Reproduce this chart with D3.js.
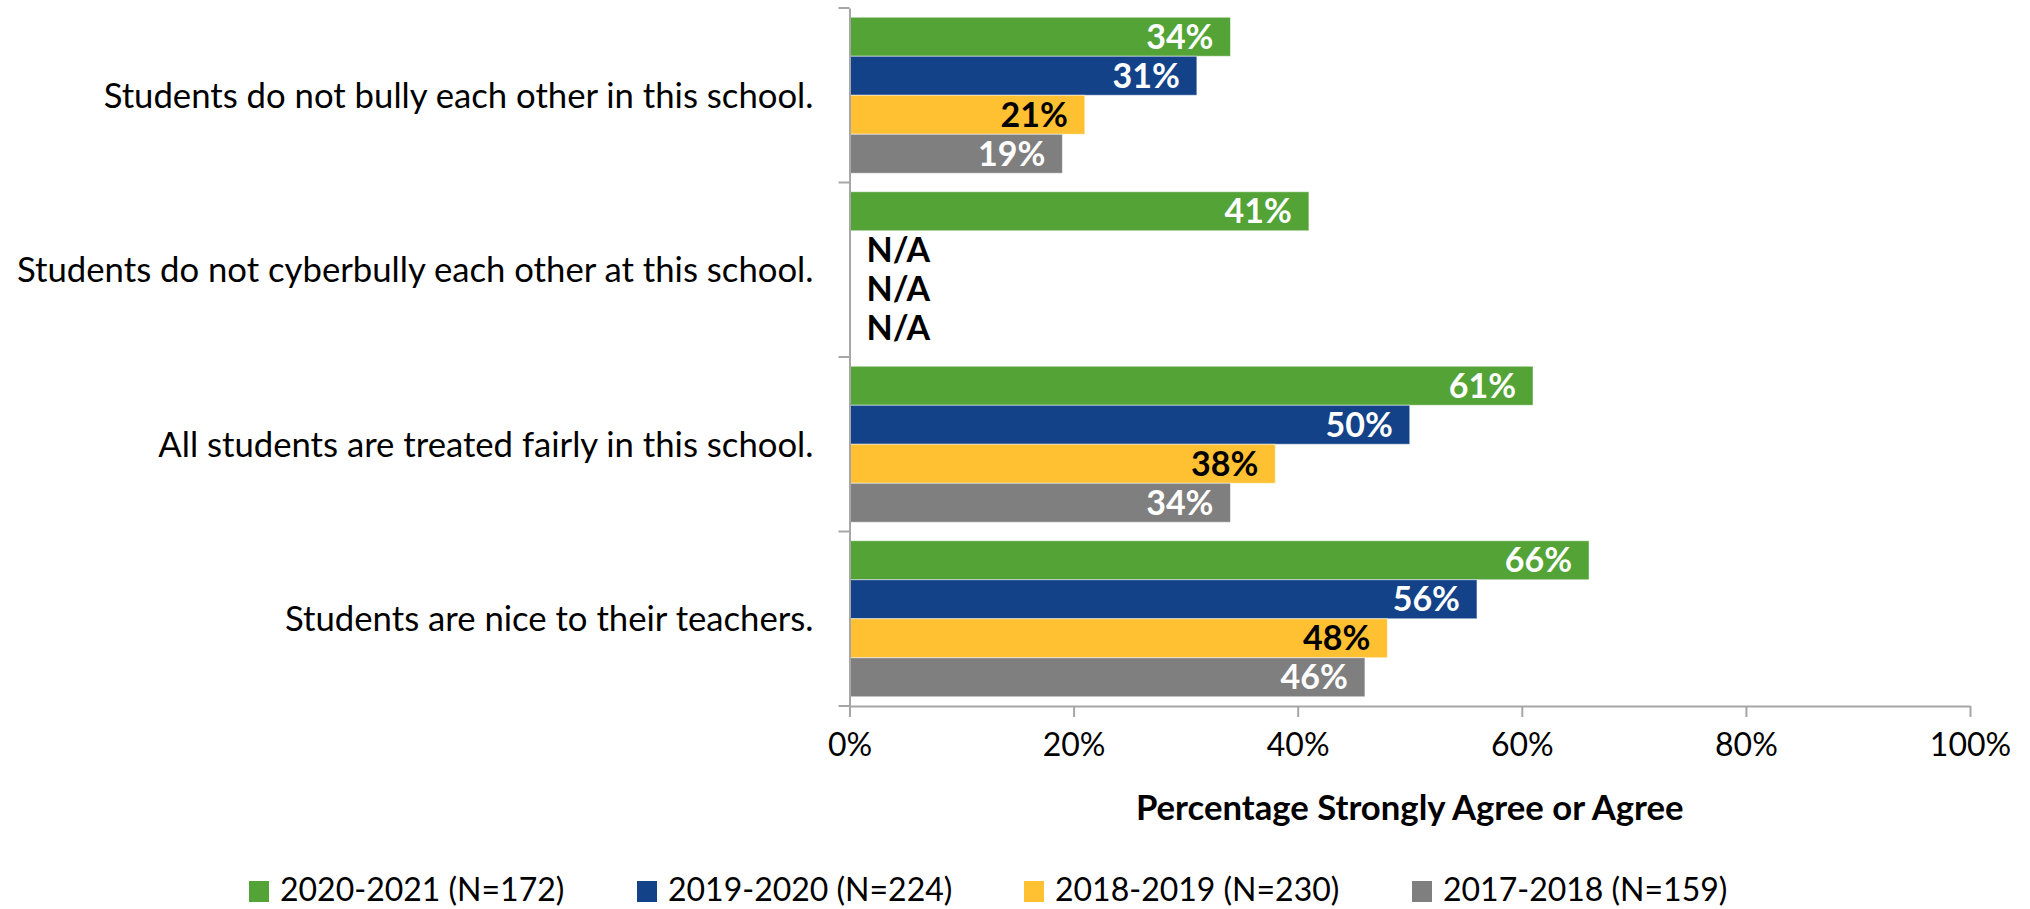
<!DOCTYPE html>
<html>
<head>
<meta charset="utf-8">
<script src="https://cdn.jsdelivr.net/npm/d3@7"></script>
<style>
  html, body { margin: 0; padding: 0; background: #ffffff; }
  svg { display: block; font-family: Lato, "Open Sans", sans-serif; }
</style>
</head>
<body>
<svg id="chart" width="2030" height="909"></svg>
<script>
// ---- data ----
const categories = [
  "Students do not bully each other in this school.",
  "Students do not cyberbully each other at this school.",
  "All students are treated fairly in this school.",
  "Students are nice to their teachers."
];
const seriesNames = ["2020-2021 (N=172)", "2019-2020 (N=224)", "2018-2019 (N=230)", "2017-2018 (N=159)"];
const values2020_2021 = [34, 41, 61, 66];
const values2019_2020 = [31, null, 50, 56];
const values2018_2019 = [21, null, 38, 48];
const values2017_2018 = [19, null, 34, 46];
const seriesValues = [values2020_2021, values2019_2020, values2018_2019, values2017_2018];
const seriesColors = ["#53A337", "#134288", "#FFC132", "#7F7F7F"];
const labelColors = ["#ffffff", "#ffffff", "#000000", "#ffffff"];
const xTicks = [0, 20, 40, 60, 80, 100];
const xTitle = "Percentage Strongly Agree or Agree";
const naLabel = "N/A";

// ---- layout ----
const svg = d3.select("#chart");
const plot = { left: 849.5, right: 1970, top: 8, bottom: 706 };
const FS = 32;
const FS_CAT = 34.7;

const x = d3.scaleLinear().domain([0, 100]).range([plot.left, plot.right]);
const y0 = d3.scaleBand().domain(categories).range([plot.top, plot.bottom]).padding(0);
const band = y0.bandwidth();
const y1 = d3.scaleBand().domain(d3.range(seriesNames.length))
  .range([band * 0.053, band * 0.947]).padding(0);

const axisColor = "#A6A6A6";

// bars
const g = svg.append("g");
categories.forEach((cat, ci) => {
  seriesValues.forEach((vals, si) => {
    const v = vals[ci];
    const yTop = y0(cat) + y1(si);
    const h = y1.bandwidth();
    if (v != null) {
      g.append("rect")
        .attr("x", x(0) + 1)
        .attr("y", yTop)
        .attr("width", x(v) - x(0) - 1)
        .attr("height", h)
        .attr("fill", seriesColors[si])
        .attr("stroke", "#ffffff")
        .attr("stroke-opacity", 0.5)
        .attr("stroke-width", 1);
      g.append("text")
        .attr("x", x(v) - 17)
        .attr("y", yTop + h / 2)
        .attr("dy", "0.36em")
        .attr("text-anchor", "end")
        .attr("font-weight", "bold")
        .attr("font-size", FS + 2)
        .attr("fill", labelColors[si])
        .text(v + "%");
    } else {
      g.append("text")
        .attr("x", x(0) + 17)
        .attr("y", yTop + h / 2)
        .attr("dy", "0.36em")
        .attr("text-anchor", "start")
        .attr("font-weight", "bold")
        .attr("font-size", FS + 2)
        .attr("fill", "#000000")
        .text(naLabel);
    }
  });
});

// y axis
const yAxis = d3.axisLeft(y0).tickSize(0).tickFormat("");
const yg = svg.append("g").attr("transform", `translate(${plot.left},0)`).call(yAxis);
yg.select(".domain").attr("stroke", axisColor).attr("stroke-width", 2);
// category boundary ticks
const boundaries = categories.map(c => y0(c)).concat([plot.bottom]);
svg.append("g").selectAll("line").data(boundaries).join("line")
  .attr("x1", plot.left - 11).attr("x2", plot.left)
  .attr("y1", d => d).attr("y2", d => d)
  .attr("stroke", axisColor).attr("stroke-width", 2);
// category labels
svg.append("g").selectAll("text").data(categories).join("text")
  .attr("x", plot.left - 36)
  .attr("y", d => y0(d) + band / 2)
  .attr("dy", "0.36em")
  .attr("text-anchor", "end")
  .attr("font-size", FS_CAT)
  .attr("fill", "#000000")
  .text(d => d);

// x axis
const xAxis = d3.axisBottom(x).tickValues(xTicks).tickSize(11).tickPadding(16)
  .tickFormat(d => d + "%").tickSizeOuter(0);
const xg = svg.append("g").attr("transform", `translate(0,${plot.bottom})`).call(xAxis);
xg.select(".domain").attr("stroke", axisColor).attr("stroke-width", 2);
xg.selectAll(".tick line").attr("stroke", axisColor).attr("stroke-width", 2);
xg.selectAll(".tick text")
  .attr("font-size", FS)
  .attr("font-family", "Lato, 'Open Sans', sans-serif")
  .attr("fill", "#000000");

// x title
svg.append("text")
  .attr("x", (plot.left + plot.right) / 2)
  .attr("y", 808)
  .attr("dy", "0.36em")
  .attr("text-anchor", "middle")
  .attr("font-weight", "bold")
  .attr("font-size", FS_CAT)
  .attr("fill", "#000000")
  .text(xTitle);

// legend
const legendX = [249, 637, 1024, 1412];
const lg = svg.append("g");
seriesNames.forEach((name, i) => {
  lg.append("rect")
    .attr("x", legendX[i]).attr("y", 881)
    .attr("width", 20).attr("height", 21)
    .attr("fill", seriesColors[i]);
  lg.append("text")
    .attr("x", legendX[i] + 31).attr("y", 889)
    .attr("dy", "0.36em")
    .attr("font-size", FS)
    .attr("fill", "#000000")
    .text(name);
});
</script>
</body>
</html>
